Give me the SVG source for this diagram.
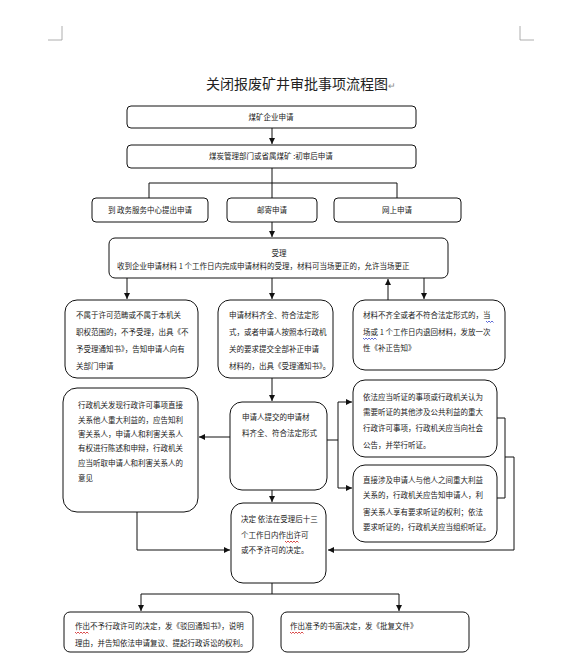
<svg xmlns="http://www.w3.org/2000/svg" width="583" height="669" viewBox="0 0 583 669">
<style>
.bg{fill:#fff}
.box{fill:#fff;stroke:#111;stroke-width:1}
.t{font-family:"Noto Sans CJK SC","Noto Sans",sans-serif;font-size:7.5px;fill:#222}
.tc{text-anchor:middle}
.title{font-family:"Noto Sans CJK SC","Noto Sans",sans-serif;font-size:14px;fill:#222;text-anchor:middle}
.ln{fill:none;stroke:#111;stroke-width:1}
.sq-b{fill:none;stroke:#3344cc;stroke-width:0.8}
.sq-r{fill:none;stroke:#d02020;stroke-width:0.8}
.mark{fill:none;stroke:#999;stroke-width:0.8}
</style>
<defs>
<marker id="ah" markerUnits="userSpaceOnUse" markerWidth="7" markerHeight="7" refX="6" refY="3" orient="auto">
<path d="M0,0 L6,3 L0,6 z" fill="#111"/>
</marker>
</defs>
<rect class="bg" x="0" y="0" width="583" height="669"/>
<g id="corner-marks">
<path class="mark" d="M48,40 H62 V26"/>
<path class="mark" d="M534,40 H520 V26"/>
</g>
<g id="title">
<text class="title" x="301" y="89">关闭报废矿井审批事项流程图<tspan font-size="9" fill="#888">↵</tspan></text>
</g>
<g id="connectors">
<path class="ln" d="M272,128 V144" marker-end="url(#ah)"/>
<path class="ln" d="M272,168 V183 M149,183 H397 M149,183 V198 M272,183 V198 M397,183 V198"/>
<path class="ln" d="M272,222 V237" marker-end="url(#ah)"/>
<path class="ln" d="M127,278 V299" marker-end="url(#ah)"/>
<path class="ln" d="M272,278 V299" marker-end="url(#ah)"/>
<path class="ln" d="M388,300 V279" marker-end="url(#ah)"/>
<path class="ln" d="M424,278 V299" marker-end="url(#ah)"/>
<path class="ln" d="M272,378 V401" marker-end="url(#ah)"/>
<path class="ln" d="M230,437 H199" marker-end="url(#ah)"/>
<path class="ln" d="M327,440 H338 M338,402 V488"/>
<path class="ln" d="M338,402 H352" marker-end="url(#ah)"/>
<path class="ln" d="M338,488 H352" marker-end="url(#ah)"/>
<path class="ln" d="M497,418 H505 V498 H497 M505,457 H514 V550 H328" marker-end="url(#ah)"/>
<path class="ln" d="M137,512 V550 H230" marker-end="url(#ah)"/>
<path class="ln" d="M272,490 V502" marker-end="url(#ah)"/>
<path class="ln" d="M272,583 V594 M141,594 H399"/>
<path class="ln" d="M141,594 V611" marker-end="url(#ah)"/>
<path class="ln" d="M399,594 V611" marker-end="url(#ah)"/>
</g>
<g id="n-apply">
<rect class="box" x="127" y="106" width="289" height="22" rx="4"/>
<text class="t tc" x="271" y="120">煤矿企业申请</text>
</g>
<g id="n-review">
<rect class="box" x="127" y="145" width="289" height="23" rx="4"/>
<text class="t tc" x="271" y="159">煤炭管理部门或省属煤矿 :初审后申请</text>
</g>
<g id="n-center">
<rect class="box" x="92" y="198" width="116" height="24" rx="4"/>
<text class="t tc" x="150" y="213">到 政务服务中心提出申请</text>
</g>
<g id="n-mail">
<rect class="box" x="227" y="198" width="90" height="24" rx="4"/>
<text class="t tc" x="272" y="213">邮寄申请</text>
</g>
<g id="n-online">
<rect class="box" x="334" y="198" width="127" height="24" rx="4"/>
<text class="t tc" x="397" y="213">网上申请</text>
</g>
<g id="n-accept">
<rect class="box" x="109" y="238" width="339" height="40" rx="6"/>
<text class="t tc" x="279" y="256">受理</text>
<text class="t" x="117" y="269">收到企业申请材料 1 个工作日内完成申请材料的受理，材料可当场更正的，允许当场更正</text>
</g>
<g id="n-reject">
<rect class="box" x="65" y="300" width="133" height="78" rx="12"/>
<text class="t" x="76" y="318">不属于许可范畴或不属于本机关</text>
<text class="t" x="76" y="335">职权范围的，不予受理，出具《不</text>
<text class="t" x="76" y="352">予受理通知书》，告知申请人向有</text>
<text class="t" x="76" y="369">关部门申请</text>
</g>
<g id="n-ok">
<rect class="box" x="218" y="300" width="115" height="78" rx="12"/>
<text class="t" x="229" y="318">申请材料齐全、符合法定形</text>
<text class="t" x="229" y="335">式，或者申请人按照本行政机</text>
<text class="t" x="229" y="352">关的要求提交全部补正申请</text>
<text class="t" x="229" y="369">材料的，出具《受理通知书》。</text>
</g>
<g id="n-fix">
<rect class="box" x="353" y="300" width="152" height="70" rx="12"/>
<text class="t" x="363" y="318">材料不齐全或者不符合法定形式的，当</text>
<text class="t" x="363" y="335">场或 1 个工作日内退回材料，发放一次</text>
<text class="t" x="363" y="351">性《补正告知》</text>
<path class="sq-b" d="M486,321 l1.5,1.5 l1.5,-1.5 l1.5,1.5 l1.5,-1.5 l1.5,1.5"/>
<path class="sq-b" d="M363,338 l1.5,1.5 l1.5,-1.5 l1.5,1.5 l1.5,-1.5 l1.5,1.5 l1.5,-1.5 l1.5,1.5 l1.5,-1.5 l1.5,1.5"/>
</g>
<g id="n-notify">
<rect class="box" x="63" y="388" width="135" height="124" rx="14"/>
<text class="t" x="78" y="408">行政机关发现行政许可事项直接</text>
<text class="t" x="78" y="423">关系他人重大利益的，应告知利</text>
<text class="t" x="78" y="437">害关系人，申请人和利害关系人</text>
<text class="t" x="78" y="451">有权进行陈述和申辩，行政机关</text>
<text class="t" x="78" y="466">应当听取申请人和利害关系人的</text>
<text class="t" x="78" y="481">意见</text>
</g>
<g id="n-complete">
<rect class="box" x="230" y="402" width="97" height="88" rx="12"/>
<text class="t" x="242" y="420">申请人提交的申请材</text>
<text class="t" x="242" y="436">料齐全、符合法定形式</text>
</g>
<g id="n-hearing1">
<rect class="box" x="353" y="380" width="144" height="77" rx="12"/>
<text class="t" x="363" y="400">依法应当听证的事项或行政机关认为</text>
<text class="t" x="363" y="415">需要听证的其他涉及公共利益的重大</text>
<text class="t" x="363" y="431">行政许可事项，行政机关应当向社会</text>
<text class="t" x="363" y="448">公告，并举行听证。</text>
</g>
<g id="n-hearing2">
<rect class="box" x="353" y="465" width="144" height="77" rx="12"/>
<text class="t" x="363" y="483">直接涉及申请人与他人之间重大利益</text>
<text class="t" x="363" y="498">关系的，行政机关应告知申请人，利</text>
<text class="t" x="363" y="515">害关系人享有要求听证的权利；依法</text>
<text class="t" x="363" y="530">要求听证的，行政机关应当组织听证。</text>
</g>
<g id="n-decide">
<rect class="box" x="231" y="503" width="95" height="80" rx="12"/>
<text class="t" x="241" y="522">决定  依法在受理后十三</text>
<text class="t" x="241" y="538">个工作日内作出许可</text>
<text class="t" x="241" y="553">或不予许可的决定。</text>
<path class="sq-r" d="M285,541 l1.5,1.5 l1.5,-1.5 l1.5,1.5 l1.5,-1.5 l1.5,1.5 l1.5,-1.5 l1.5,1.5 l1.5,-1.5 l1.5,1.5"/>
</g>
<g id="n-deny">
<rect class="box" x="64" y="612" width="189" height="40" rx="6"/>
<text class="t" x="75" y="629">作出不予行政许可的决定，发《驳回通知书》，说明</text>
<text class="t" x="75" y="646">理由，并告知依法申请复议、提起行政诉讼的权利。</text>
<path class="sq-r" d="M75,632 l1.5,1.5 l1.5,-1.5 l1.5,1.5 l1.5,-1.5 l1.5,1.5 l1.5,-1.5 l1.5,1.5 l1.5,-1.5 l1.5,1.5"/>
</g>
<g id="n-grant">
<rect class="box" x="281" y="612" width="188" height="40" rx="6"/>
<text class="t" x="290" y="629">作出准予的书面决定，发《批复文件》</text>
<path class="sq-r" d="M290,632 l1.5,1.5 l1.5,-1.5 l1.5,1.5 l1.5,-1.5 l1.5,1.5 l1.5,-1.5 l1.5,1.5 l1.5,-1.5 l1.5,1.5"/>
</g>
</svg>
